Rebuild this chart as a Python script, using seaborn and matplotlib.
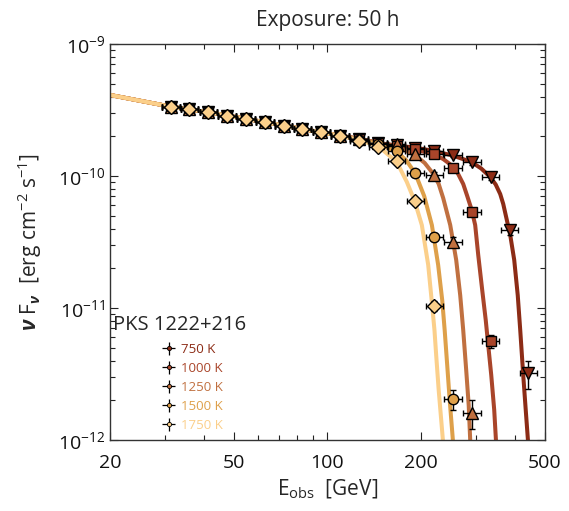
import numpy as np
import pandas as pd
import matplotlib
matplotlib.use("Agg")
import matplotlib.pyplot as plt
import seaborn as sns
from matplotlib.ticker import FixedLocator, FixedFormatter, NullFormatter, LogLocator

# --- data ---------------------------------------------------------------
temps = ["750 K", "1000 K", "1250 K", "1500 K", "1750 K"]
colors = ["#8c2c16", "#a9452a", "#c07040", "#dea04a", "#fbcf8a"]
markers = ["v", "s", "^", "o", "D"]
marker_sizes = [8.5, 7, 8.5, 7.5, 7]

# energy bins of the simulated points [GeV]
e_bins = [31.4, 36.0, 41.4, 47.6, 54.7, 62.9, 72.3, 83.1, 95.5, 109.8,
          126.2, 145.1, 166.8, 191.7, 220.3, 253.3, 291.1, 334.6, 384.6, 442.1]

# points shared by all temperatures (first 10 bins)
flux_common = [3.35e-10, 3.20e-10, 3.04e-10, 2.85e-10, 2.71e-10,
               2.55e-10, 2.41e-10, 2.27e-10, 2.14e-10, 2.02e-10]

flux_pts = {
    "750 K": flux_common + [1.91e-10, 1.78e-10, 1.71e-10, 1.63e-10, 1.55e-10,
                            1.44e-10, 1.28e-10, 9.9e-11, 3.90e-11, 3.20e-12],
    "1000 K": flux_common + [1.91e-10, 1.78e-10, 1.70e-10, 1.59e-10, 1.47e-10,
                             1.14e-10, 5.33e-11, 5.62e-12],
    "1250 K": flux_common + [1.91e-10, 1.77e-10, 1.74e-10, 1.46e-10, 1.02e-10,
                             3.18e-11, 1.61e-12],
    "1500 K": flux_common + [1.89e-10, 1.75e-10, 1.56e-10, 1.05e-10, 3.47e-11,
                             2.03e-12],
    "1750 K": flux_common + [1.85e-10, 1.67e-10, 1.31e-10, 6.47e-11, 1.04e-11],
}

# relative flux errors of the points beyond the common bins
err_common = 0.03
err_tail = {
    "750 K": [0.03, 0.03, 0.03, 0.03, 0.04, 0.04, 0.05, 0.06, 0.08, 0.24],
    "1000 K": [0.03, 0.03, 0.03, 0.04, 0.04, 0.05, 0.07, 0.12],
    "1250 K": [0.03, 0.03, 0.03, 0.04, 0.05, 0.08, 0.25],
    "1500 K": [0.03, 0.03, 0.04, 0.05, 0.07, 0.17],
    "1750 K": [0.03, 0.03, 0.04, 0.06, 0.09],
}
bin_half_dex = 0.028

# model curves: common low-energy part + absorbed tails
curve_e_common = [20.0, 31.4, 41.4, 54.7, 72.3, 95.5, 109.8]
curve_f_common = [4.11e-10, 3.35e-10, 3.04e-10, 2.71e-10, 2.41e-10, 2.14e-10, 2.02e-10]

curve_tail_e = {
    "750 K": [126.2, 145.2, 166.9, 191.3, 219.0, 252.2, 289.6, 311.9, 333.4, 347.2,
              359.0, 367.1, 373.9, 386.6, 398.2, 408.7, 416.3, 425.6, 433.6, 440.7,
              444.9],
    "1000 K": [126.2, 145.2, 166.9, 191.3, 219.0, 235.4, 252.2, 263.0, 273.0, 281.2,
               290.7, 298.3, 305.1, 314.2, 322.5, 328.5, 335.9, 343.4, 347.8, 351.1],
    "1250 K": [126.2, 145.2, 166.9, 191.3, 205.3, 219.0, 227.7, 235.4, 248.0, 259.2,
               267.0, 273.0, 279.1, 284.3, 287.5, 289.6],
    "1500 K": [126.2, 145.2, 166.9, 178.9, 191.3, 204.5, 216.5, 226.8, 233.7, 238.0,
               242.5, 247.0, 252.9, 255.4],
    "1750 K": [126.2, 145.2, 166.9, 179.9, 190.6, 201.0, 210.7, 216.9, 220.7, 223.5,
               227.7, 234.9, 237.2],
}
curve_tail_f = {
    "750 K": [1.91e-10, 1.78e-10, 1.70e-10, 1.64e-10, 1.55e-10, 1.43e-10, 1.28e-10,
              1.14e-10, 9.83e-11, 8.62e-11, 7.30e-11, 6.14e-11, 5.06e-11, 3.57e-11,
              2.31e-11, 1.25e-11, 6.81e-12, 3.11e-12, 1.69e-12, 1.0e-12, 7.06e-13],
    "1000 K": [1.91e-10, 1.78e-10, 1.69e-10, 1.59e-10, 1.46e-10, 1.345e-10, 1.19e-10,
               1.035e-10, 8.70e-11, 7.06e-11, 5.53e-11, 4.25e-11, 2.52e-11, 1.37e-11,
               8.11e-12, 5.24e-12, 3.11e-12, 1.69e-12, 1.0e-12, 7.06e-13],
    "1250 K": [1.91e-10, 1.78e-10, 1.67e-10, 1.44e-10, 1.255e-10, 1.035e-10, 8.70e-11,
               6.81e-11, 4.25e-11, 2.31e-11, 1.25e-11, 6.81e-12, 3.39e-12, 1.84e-12,
               1.0e-12, 7.06e-13],
    "1500 K": [1.89e-10, 1.75e-10, 1.53e-10, 1.32e-10, 1.05e-10, 7.06e-11, 4.25e-11,
               2.12e-11, 1.15e-11, 6.81e-12, 3.70e-12, 2.01e-12, 1.0e-12, 7.06e-13],
    "1750 K": [1.87e-10, 1.69e-10, 1.28e-10, 9.01e-11, 6.46e-11, 4.25e-11, 2.12e-11,
               1.054e-11, 6.81e-12, 4.40e-12, 2.39e-12, 1.0e-12, 7.06e-13],
}

x_ticks = [20, 50, 100, 200, 500]
x_minor = [30, 40, 60, 70, 80, 90, 300, 400]

# --- style -----------------------------------------------------------------
sns.set_style("ticks")
plt.rcParams["font.family"] = ["Open Sans", "DejaVu Sans"]
plt.rcParams["mathtext.fontset"] = "custom"
plt.rcParams["mathtext.rm"] = "Open Sans"
plt.rcParams["mathtext.it"] = "Open Sans:italic"
plt.rcParams["mathtext.bf"] = "Open Sans:bold"
plt.rcParams["mathtext.bfit"] = "Open Sans:italic:bold"

fig = plt.figure(figsize=(5.69, 5.11), dpi=100)
ax = fig.add_axes([0.1933, 0.1389, 0.7645, 0.775])

# model curves
rows = []
for t in temps:
    for e, f in zip(curve_e_common + curve_tail_e[t], curve_f_common + curve_tail_f[t]):
        rows.append({"E": e, "F": f, "T": t})
df = pd.DataFrame(rows)
sns.lineplot(data=df, x="E", y="F", hue="T", hue_order=temps,
             palette=dict(zip(temps, colors)), estimator=None, sort=False,
             lw=2.9, legend=False, ax=ax, zorder=2)

# simulated points
for t, c, m, ms in zip(temps, colors, markers, marker_sizes):
    f = np.array(flux_pts[t])
    e = np.array(e_bins[:len(f)])
    rel = np.array([err_common] * len(flux_common) + err_tail[t])
    xerr = [e - e / 10**bin_half_dex, e * 10**bin_half_dex - e]
    ax.errorbar(e, f, xerr=xerr, yerr=f * rel, fmt=m, ms=ms,
                mfc=c, mec="k", mew=1.0, ecolor="k", elinewidth=1.0,
                capsize=2.5, capthick=1.0, zorder=3)

ax.set_xscale("log")
ax.set_yscale("log")
ax.set_xlim(20, 500)
ax.set_ylim(1e-12, 1e-9)

ax.xaxis.set_major_locator(FixedLocator(x_ticks))
ax.xaxis.set_major_formatter(FixedFormatter([str(v) for v in x_ticks]))
ax.xaxis.set_minor_locator(FixedLocator(x_minor))
ax.xaxis.set_minor_formatter(NullFormatter())
ax.yaxis.set_major_locator(LogLocator(base=10, numticks=10))
ax.yaxis.set_minor_locator(LogLocator(base=10, subs=np.arange(2, 10), numticks=10))
ax.yaxis.set_minor_formatter(NullFormatter())

ax.tick_params(which="both", direction="in", top=True, right=True,
               width=0.8, colors="#222222", labelcolor="#111111", labelsize=14)
ax.tick_params(axis="x", which="major", pad=10)
ax.tick_params(which="major", length=6)
ax.tick_params(which="minor", length=3.5)
for s in ax.spines.values():
    s.set_linewidth(1.0)
    s.set_color("#333333")

ax.set_title("Exposure: 50 h", fontsize=15, pad=13)
ax.set_xlabel(r"E$_{\rm obs}$  [GeV]", fontsize=15, labelpad=4)
ax.set_ylabel(r"$\boldsymbol{\nu}$ F$_{\boldsymbol{\nu}}$  [erg cm$^{-2}$ s$^{-1}$]",
              fontsize=15, labelpad=10)

# legend
ax.text(0.007, 0.29, "PKS 1222+216", transform=ax.transAxes, fontsize=14.5,
        ha="left", va="center")
handles = []
for t, c in zip(temps, colors):
    h = ax.errorbar([], [], xerr=[], yerr=[], fmt="o", ms=3, mfc=c, mec="k",
                    mew=0.6, ecolor="k", elinewidth=0.9, capsize=1.5, label=t)
    handles.append(h)
ax.legend(handles=handles, loc="upper left", bbox_to_anchor=(0.12, 0.245),
          frameon=False, fontsize=9.5, labelcolor=colors, handlelength=1.0,
          handletextpad=0.4, labelspacing=0.45, borderaxespad=0, borderpad=0)

fig.savefig("out.png", dpi=100)
